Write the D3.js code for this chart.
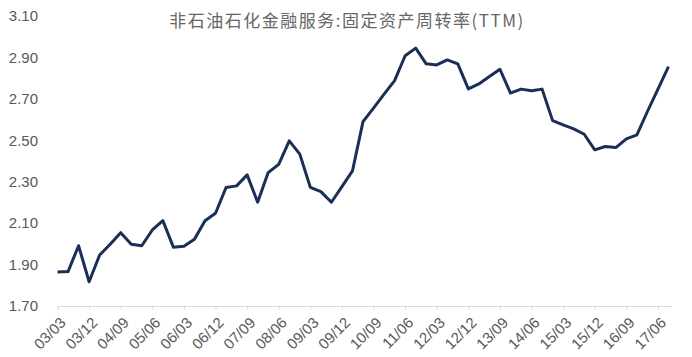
<!DOCTYPE html>
<html>
<head>
<meta charset="utf-8">
<script src="https://cdn.jsdelivr.net/npm/d3@7"></script>
<style>
  html, body { margin: 0; padding: 0; background: #fff; }
  svg { display: block; }
  text { font-family: "Liberation Sans", Arial, sans-serif; }
</style>
</head>
<body>
<svg id="chart" width="692" height="357"></svg>
<script>
const title = "非石油石化金融服务:固定资产周转率(TTM)";
const quarters = [
  "03/03","03/06","03/09","03/12","04/03","04/06","04/09","04/12",
  "05/03","05/06","05/09","05/12","06/03","06/06","06/09","06/12",
  "07/03","07/06","07/09","07/12","08/03","08/06","08/09","08/12",
  "09/03","09/06","09/09","09/12","10/03","10/06","10/09","10/12",
  "11/03","11/06","11/09","11/12","12/03","12/06","12/09","12/12",
  "13/03","13/06","13/09","13/12","14/03","14/06","14/09","14/12",
  "15/03","15/06","15/09","15/12","16/03","16/06","16/09","16/12",
  "17/03","17/06","17/09"
];
const values = [
  1.864,1.866,1.991,1.817,1.946,1.998,2.054,1.998,
  1.991,2.067,2.112,1.984,1.988,2.022,2.112,2.148,
  2.272,2.280,2.333,2.201,2.344,2.384,2.497,2.433,
  2.273,2.252,2.201,2.276,2.352,2.590,2.655,2.723,
  2.788,2.908,2.945,2.869,2.864,2.888,2.869,2.748,
  2.772,2.808,2.843,2.728,2.747,2.739,2.747,2.595,
  2.574,2.555,2.529,2.454,2.470,2.465,2.507,2.526,
  2.639,2.747,2.856
];
const tickLabels = [
  "03/03","03/12","04/09","05/06","06/03","06/12","07/09","08/06",
  "09/03","09/12","10/09","11/06","12/03","12/12","13/09","14/06",
  "15/03","15/12","16/09","17/06"
];
const yTicks = [1.70,1.90,2.10,2.30,2.50,2.70,2.90,3.10];

const svg = d3.select("#chart");
const x = d3.scalePoint().domain(quarters).range([57.5, 668.5]);
const y = d3.scaleLinear().domain([1.7, 3.1]).range([306, 16]);

// Title
svg.append("text")
  .attr("x", 347).attr("y", 27)
  .attr("text-anchor", "middle")
  .attr("font-size", 17)
  .attr("letter-spacing", 1.5)
  .attr("fill", "#666666")
  .style("font-family", "'Noto Sans CJK SC', sans-serif")
  .text(title);

// Y axis labels (no line)
const yAxis = d3.axisLeft(y).tickValues(yTicks).tickFormat(d3.format(".2f")).tickSize(0).tickPadding(0);
const yg = svg.append("g").attr("transform", "translate(38,0)").call(yAxis);
yg.select(".domain").remove();
yg.selectAll("text").attr("font-size", 15).attr("fill", "#595959")
  .style("font-family", "'Liberation Sans', Arial, sans-serif");

// X axis
const xAxis = d3.axisBottom(x).tickValues(tickLabels).tickSize(4).tickSizeOuter(0);
const xg = svg.append("g").attr("transform", "translate(0,306)").call(xAxis);
xg.select(".domain").attr("stroke", "#d9d9d9").attr("d", "M57.5,0.5H672");
xg.selectAll(".tick line").attr("stroke", "#d9d9d9");
xg.selectAll(".tick text")
  .attr("font-size", 15).attr("fill", "#595959")
  .style("font-family", "'Liberation Sans', Arial, sans-serif")
  .attr("text-anchor", "end")
  .attr("dy", "0.35em")
  .attr("transform", "translate(5,14) rotate(-45)")
  .attr("y", 0).attr("x", 0);

// Line
const line = d3.line().x((d, i) => x(quarters[i])).y(d => y(d));
svg.append("path")
  .datum(values)
  .attr("fill", "none")
  .attr("stroke", "#1a2f55")
  .attr("stroke-width", 3)
  .attr("stroke-linejoin", "round")
  .attr("d", line);
</script>
</body>
</html>
